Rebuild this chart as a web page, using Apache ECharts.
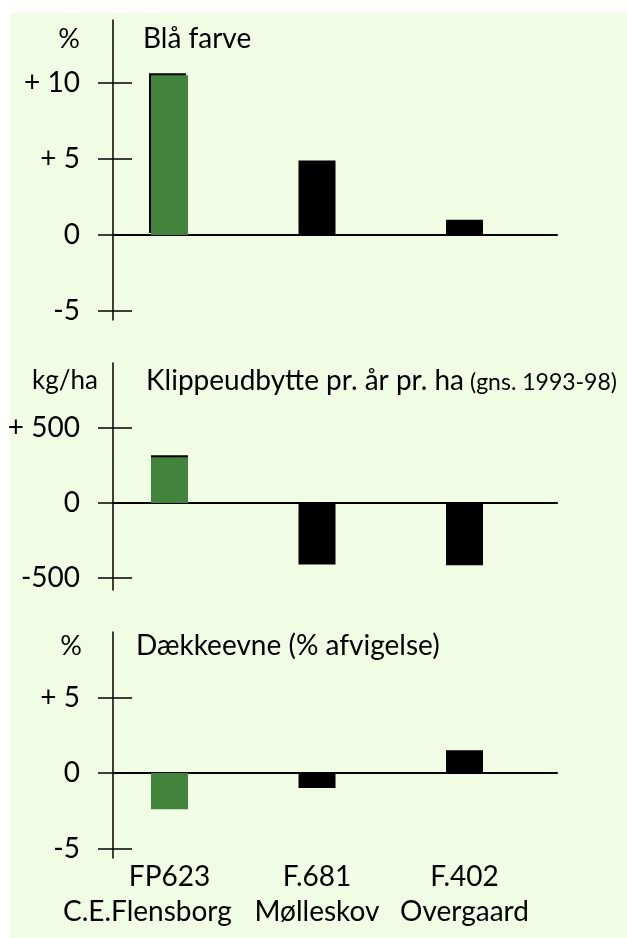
<!DOCTYPE html>
<html>
<head>
<meta charset="utf-8">
<script src="https://cdn.jsdelivr.net/npm/echarts@6/dist/echarts.min.js"></script>
<style>
html,body{margin:0;padding:0;background:#fff;}
#chart{width:627px;height:938px;}
</style>
</head>
<body>
<div id="chart"></div>
<script>
// ---- data ----
const categoryCodes = ['FP623', 'F.681', 'F.402'];
const categoryNames = ['C.E.Flensborg', 'Mølleskov', 'Overgaard'];

const blaFarve = [10.5, 4.9, 1.0];          // %
const klippeudbytte = [305, -410, -415];    // kg/ha
const daekkeevne = [-2.4, -1.0, 1.5];       // %

const ticks1 = [10, 5, 0, -5];
const tickLabels1 = ['+ 10', '+ 5', '0', '-5'];
const ticks2 = [500, 0, -500];
const tickLabels2 = ['+ 500', '0', '-500'];
const ticks3 = [5, 0, -5];
const tickLabels3 = ['+ 5', '0', '-5'];

const titles = ['Blå farve', 'Klippeudbytte pr. år pr. ha', 'Dækkeevne (% afvigelse)'];
const subTitle2 = '(gns. 1993-98)';
const units = ['%', 'kg/ha', '%'];

// ---- styling / layout ----
const FONT = 'Lato';
const GREEN = '#43843c';
const BLACK = '#000';
const BG = '#f0fce4';

const chart = echarts.init(document.getElementById('chart'), null, {renderer: 'canvas'});

// category positions on the x value axis: 1, 2, 3
const XMIN = 0.617, XMAX = 3.627;
const codeLabelPos = [1, 2, 3];
const nameLabelPos = [0.85, 2.0, 3.0];   // the long first name sits a bit to the left

const panels = [
  {top: 20, height: 300, min: -5.59, max: 14.14, data: blaFarve, ticks: ticks1, labels: tickLabels1, greenShadow: [-2, -2]},
  {top: 363, height: 227, min: -580, max: 933, data: klippeudbytte, ticks: ticks2, labels: tickLabels2, greenShadow: [0, -2]},
  {top: 632, height: 226, min: -5.63, max: 9.34, data: daekkeevne, ticks: ticks3, labels: tickLabels3, greenShadow: null}
];

const grid = [], xAxis = [], yAxis = [], series = [];
panels.forEach((p, k) => {
  grid.push({left: 113, width: 444, top: p.top, height: p.height});
  xAxis.push({
    type: 'value', gridIndex: k, min: XMIN, max: XMAX,
    axisLine: {show: true, onZero: true, lineStyle: {color: BLACK, width: 2}},
    axisTick: {show: false}, axisLabel: {show: false}, splitLine: {show: false}
  });
  const labelMap = {};
  p.ticks.forEach((t, i) => { labelMap[t] = p.labels[i]; });
  yAxis.push({
    type: 'value', gridIndex: k, min: p.min, max: p.max, position: 'left',
    axisLine: {show: true, onZero: false, lineStyle: {color: BLACK, width: 1.5}},
    axisTick: {show: true, length: 15, customValues: p.ticks, lineStyle: {color: BLACK, width: 1.5}},
    axisLabel: {show: true, margin: 33, customValues: p.ticks, color: BLACK, fontFamily: FONT, fontSize: 28,
      showMinLabel: true, showMaxLabel: true,
      formatter: v => labelMap[v] !== undefined ? labelMap[v] : ''},
    splitLine: {show: false}
  });
  yAxis.push({
    type: 'value', gridIndex: k, min: p.min, max: p.max, position: 'left',
    axisLine: {show: false, onZero: false},
    axisTick: {show: true, inside: true, length: 19, customValues: p.ticks, lineStyle: {color: BLACK, width: 1.5}},
    axisLabel: {show: false}, splitLine: {show: false}
  });
  series.push({
    type: 'bar', xAxisIndex: k, yAxisIndex: 2 * k, barWidth: 37,
    data: p.data.map((v, i) => {
      const item = {value: [i + 1, v], itemStyle: {color: i === 0 ? GREEN : BLACK}};
      if (i === 0 && p.greenShadow) {
        item.itemStyle.shadowColor = BLACK;
        item.itemStyle.shadowBlur = 0;
        item.itemStyle.shadowOffsetX = p.greenShadow[0];
        item.itemStyle.shadowOffsetY = p.greenShadow[1];
      }
      return item;
    })
  });
});

function labelAxis(positions, texts, margin) {
  return {
    type: 'value', gridIndex: 2, min: XMIN, max: XMAX, position: 'bottom',
    axisLine: {show: false, onZero: false}, axisTick: {show: false}, splitLine: {show: false},
    axisLabel: {
      show: true, margin: margin, customValues: positions,
      showMinLabel: true, showMaxLabel: true, hideOverlap: false,
      color: BLACK, fontFamily: FONT, fontSize: 28,
      formatter: v => {
        let best = 0;
        positions.forEach((p, i) => { if (Math.abs(p - v) < Math.abs(positions[best] - v)) best = i; });
        return texts[best];
      }
    }
  };
}
xAxis.push(labelAxis(codeLabelPos, categoryCodes, 5));
xAxis.push(labelAxis(nameLabelPos, categoryNames, 40));

const titleStyle = {color: BLACK, fontFamily: FONT, fontSize: 28, fontWeight: 'normal'};
const unitStyle = Object.assign({}, titleStyle, {fontSize: 27});
const kgStyle = Object.assign({}, titleStyle, {fontSize: 26});
const title = [
  {text: units[0], right: 547, top: 26, padding: 0, textStyle: unitStyle},
  {text: titles[0], left: 143, top: 25, padding: 0, textStyle: titleStyle},
  {text: units[1], right: 529, top: 368, padding: 0, textStyle: kgStyle},
  {text: titles[1], left: 146, top: 367, padding: 0, textStyle: titleStyle},
  {text: subTitle2, left: 470, top: 371, padding: 0, textStyle: Object.assign({}, titleStyle, {fontSize: 23})},
  {text: units[2], right: 545, top: 633, padding: 0, textStyle: unitStyle},
  {text: titles[2], left: 136, top: 632, padding: 0, textStyle: titleStyle}
];

chart.setOption({
  animation: false,
  backgroundColor: 'transparent',
  graphic: [{type: 'rect', z: -100, silent: true, shape: {x: 10, y: 13, width: 617, height: 925}, style: {fill: BG}}],
  title, grid, xAxis, yAxis, series
});
</script>
</body>
</html>
